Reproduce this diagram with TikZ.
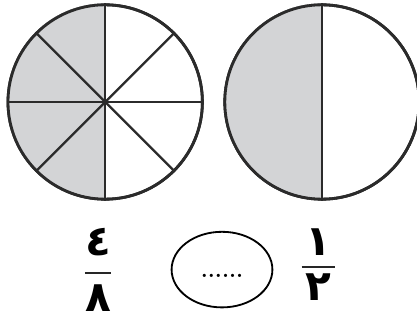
\documentclass[tikz,border=0pt]{standalone}
\usepackage{fontspec}
\usetikzlibrary{shapes.geometric}
\newfontfamily\arabicfont[Script=Arabic]{DejaVu Sans}
\definecolor{pieshade}{HTML}{D3D4D6}
\definecolor{pieline}{HTML}{2B2B2B}

\begin{document}
\begin{tikzpicture}[
    pie/.style={circle,draw=pieline,line width=2pt,minimum size=4.86cm,inner sep=0pt},
    digit/.style={inner sep=0pt,font=\arabicfont\bfseries\fontsize{30}{32}\selectfont},
    bar/.style={line width=1.8pt,draw=black!85}
]
\useasboundingbox (0,0) rectangle (10.425,8);

\node[pie] (L) at (2.63,5.45) {};
\node[pie] (R) at (8.05,5.45) {};

% shaded halves
\fill[pieshade] (L.north) arc (90:270:2.43) -- cycle;
\fill[pieshade] (R.north) arc (90:270:2.43) -- cycle;

\draw[pieline,line width=1.6pt] (L.north) -- (L.south);
\draw[pieline,line width=1.6pt] (L.west) -- (L.east);
\draw[pieline,line width=1.6pt] (L.north west) -- (L.south east);
\draw[pieline,line width=1.6pt] (L.south west) -- (L.north east);
\fill[pieline] (L.center) circle (0.05);

\draw[pieline,line width=1.6pt] (R.north) -- (R.south);

\node[pie] at (L) {};
\node[pie] at (R) {};

% fractions
\node[digit] (n4) at (2.45,1.95) {٤};
\node[digit] (d8) at (2.45,0.55) {٨};
\draw[bar] (2.12,1.18) -- (2.78,1.18);

\node[digit] (n1) at (7.95,1.94) {١};
\node[digit] (d2) at (7.95,0.81) {٢};
\draw[bar] (7.54,1.33) -- (8.37,1.33);

\node[ellipse,draw,line width=1.3pt,minimum width=2.52cm,minimum height=1.89cm,inner sep=0pt] (blank) at (5.55,1.26) {};
\node[inner sep=0pt,font=\fontsize{16}{18}\selectfont\bfseries] (dots) at (5.55,1.1) {......};

\end{tikzpicture}
\end{document}
